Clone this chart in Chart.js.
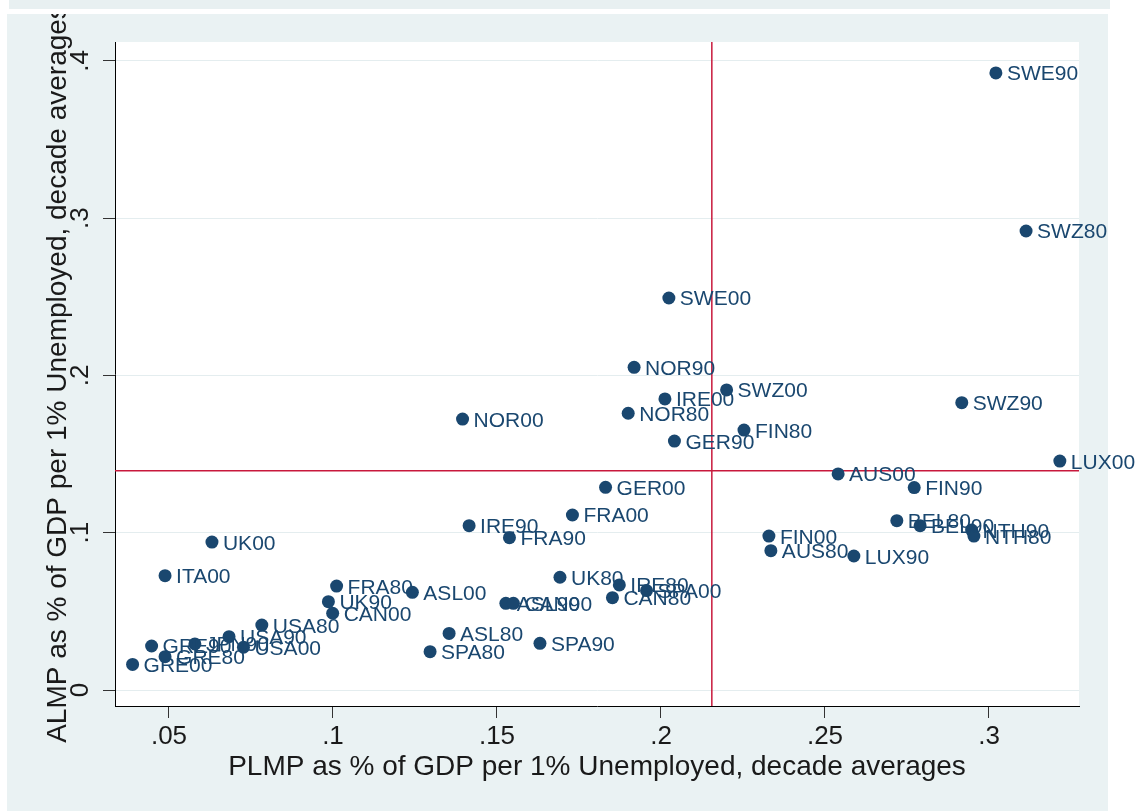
<!DOCTYPE html>
<html>
<head>
<meta charset="utf-8">
<script src="https://cdn.jsdelivr.net/npm/chart.js@4"></script>
<style>
  html, body { margin: 0; padding: 0; background: #ffffff; width: 1145px; height: 811px; overflow: hidden; }
  #strip { position: absolute; left: 9px; top: 0; width: 1101px; height: 9px; background: #E8F0F1; }
  #panel { position: absolute; left: 7px; top: 14px; width: 1101px; height: 797px; background: #EAF2F3; }
  #c { position: absolute; left: 0; top: 14px; }
</style>
</head>
<body>
<div id="strip"></div>
<div id="panel"></div>
<canvas id="c" width="1145" height="797"></canvas>
<script>
// ---- data ----
const countryLabels = [
  "SWE90","SWZ80","SWE00","NOR90","SWZ00","IRE00","NOR80","FIN80","GER90","NOR00",
  "SWZ90","LUX00","AUS00","FIN90","GER00","FRA00","IRE90","FRA90","UK00","BEL80",
  "BEL90","NTH90","NTH80","FIN00","AUS80","LUX90","ITA00","FRA80","ASL00","UK90",
  "CAN00","UK80","IRE80","SPA00","CAN80","ASL90","CAN90","ASL80","SPA80","SPA90",
  "USA80","USA90","USA00","JPN90","GRE90","GRE80","GRE00"
];
const plmp = [
  0.3021,0.3113,0.2024,0.1918,0.2200,0.2012,0.1900,0.2253,0.2041,0.1395,
  0.2917,0.3216,0.2540,0.2772,0.1831,0.1730,0.1415,0.1538,0.0631,0.2719,
  0.2790,0.2947,0.2954,0.2329,0.2335,0.2588,0.0488,0.1011,0.1242,0.0986,
  0.0999,0.1692,0.1873,0.1956,0.1852,0.1527,0.1550,0.1354,0.1296,0.1631,
  0.0783,0.0683,0.0727,0.0579,0.0447,0.0488,0.0389
];
const almp = [
  0.3924,0.2919,0.2493,0.2052,0.1908,0.1851,0.1760,0.1653,0.1583,0.1723,
  0.1827,0.1456,0.1374,0.1287,0.1289,0.1113,0.1045,0.0969,0.0941,0.1077,
  0.1045,0.1017,0.0979,0.0979,0.0886,0.0852,0.0727,0.0661,0.0621,0.0562,
  0.0488,0.0717,0.0668,0.0632,0.0587,0.0551,0.0551,0.0360,0.0244,0.0297,
  0.0413,0.0339,0.0272,0.0293,0.0280,0.0212,0.0163
];
const xTickValues = [0.05, 0.10, 0.15, 0.20, 0.25, 0.30];
const xTickLabels = [".05", ".1", ".15", ".2", ".25", ".3"];
const yTickValues = [0, 0.1, 0.2, 0.3, 0.4];
const yTickLabels = ["0", ".1", ".2", ".3", ".4"];
const meanPLMP = 0.2155;   // vertical reference line
const meanALMP = 0.1395;   // horizontal reference line
const xTitle = "PLMP as % of GDP per 1% Unemployed, decade averages";
const yTitle = "ALMP as % of GDP per 1% Unemployed, decade averages";

// ---- style ----
const X_MIN = 0.03354, X_MAX = 0.32744;
const Y_MIN = -0.01017, Y_MAX = 0.41208;
const NAVY = "#1A476F";
const RED = "#C8193C";
const FONT = "'Liberation Sans', Arial, Helvetica, sans-serif";

const points = plmp.map((v, i) => ({ x: v, y: almp[i] }));

const plotBg = {
  id: "plotBg",
  beforeDraw(chart) {
    const a = chart.chartArea, ctx = chart.ctx;
    ctx.save();
    ctx.fillStyle = "#ffffff";
    ctx.fillRect(a.left, a.top, a.right - a.left, a.bottom - a.top);
    ctx.restore();
  }
};

const pointLabels = {
  id: "pointLabels",
  afterDatasetsDraw(chart) {
    const ctx = chart.ctx;
    const meta = chart.getDatasetMeta(0);
    ctx.save();
    ctx.font = "21px " + FONT;
    ctx.fillStyle = NAVY;
    ctx.textAlign = "left";
    ctx.textBaseline = "alphabetic";
    meta.data.forEach((el, i) => {
      ctx.fillText(countryLabels[i], el.x + 11, el.y + 7.5);
    });
    ctx.restore();
  }
};

new Chart(document.getElementById("c"), {
  type: "scatter",
  data: {
    datasets: [
      {
        data: points,
        backgroundColor: NAVY,
        borderColor: NAVY,
        borderWidth: 0,
        pointRadius: 6.5,
        pointHoverRadius: 6.5,
        order: 1
      },
      {
        type: "line",
        data: [{ x: meanPLMP, y: Y_MIN }, { x: meanPLMP, y: Y_MAX }],
        borderColor: RED, borderWidth: 1.5, pointRadius: 0, fill: false,
        order: 2
      },
      {
        type: "line",
        data: [{ x: X_MIN, y: meanALMP }, { x: X_MAX, y: meanALMP }],
        borderColor: RED, borderWidth: 1.5, pointRadius: 0, fill: false,
        order: 2
      }
    ]
  },
  options: {
    responsive: false,
    animation: false,
    devicePixelRatio: 1,
    layout: { padding: { top: 28, right: 66, left: 0, bottom: 0 } },
    plugins: { legend: { display: false }, tooltip: { enabled: false } },
    scales: {
      x: {
        type: "linear",
        min: X_MIN, max: X_MAX,
        afterFit(s) { s.height = 105; },
        afterBuildTicks(s) { s.ticks = xTickValues.map(v => ({ value: v })); },
        ticks: {
          callback: (v) => xTickLabels[xTickValues.findIndex(t => Math.abs(t - v) < 1e-9)],
          font: { size: 26, family: FONT }, color: "#1a1a1a",
          padding: 3, maxRotation: 0, minRotation: 0, autoSkip: false
        },
        grid: { drawOnChartArea: false, tickLength: 12, tickColor: "#333", tickWidth: 1 },
        border: { color: "#000", width: 1 },
        title: { display: true, text: xTitle, color: "#1a1a1a",
                 font: { size: 28, family: FONT }, padding: { top: 0, bottom: 27 } }
      },
      y: {
        type: "linear",
        min: Y_MIN, max: Y_MAX,
        afterFit(s) { s.width = 115; },
        afterBuildTicks(s) { s.ticks = yTickValues.map(v => ({ value: v })); },
        ticks: {
          callback: (v) => yTickLabels[yTickValues.findIndex(t => Math.abs(t - v) < 1e-9)],
          font: { size: 26, family: FONT }, color: "#1a1a1a",
          padding: 11, minRotation: 90, maxRotation: 90, crossAlign: "center", autoSkip: false
        },
        grid: { color: "#E4EDEF", lineWidth: 1, tickLength: 12, tickColor: "#333", tickWidth: 1 },
        border: { color: "#000", width: 1 },
        title: { display: true, text: yTitle, color: "#1a1a1a",
                 font: { size: 28, family: FONT }, padding: { top: 41, bottom: 0 } }
      }
    }
  },
  plugins: [plotBg, pointLabels]
});
</script>
</body>
</html>
